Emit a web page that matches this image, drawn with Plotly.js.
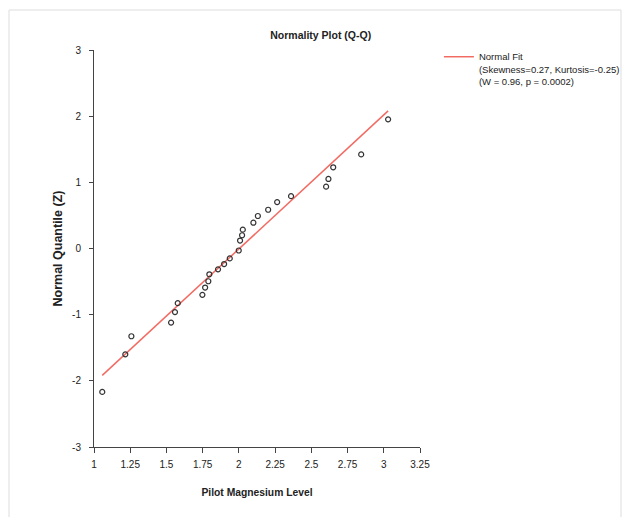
<!DOCTYPE html>
<html>
<head>
<meta charset="utf-8">
<script src="https://cdn.plot.ly/plotly-3.0.1.min.js"></script>
<style>
  html, body { margin: 0; padding: 0; background: #ffffff; }
  #chart { width: 624px; height: 517px; }
</style>
</head>
<body>
<div id="chart"></div>
<script>
// Observed data: Pilot Magnesium Level vs normal quantile (Z)
const magnesium = [3.030, 2.844, 2.651, 2.618, 2.602, 2.360, 2.264, 2.202, 2.131, 2.100,
                   2.027, 2.022, 2.008, 1.999, 1.937, 1.898, 1.856, 1.796, 1.789, 1.767,
                   1.748, 1.578, 1.559, 1.532, 1.258, 1.216, 1.057];
const zScores   = [1.952, 1.422, 1.227, 1.051, 0.935, 0.791, 0.701, 0.586, 0.491, 0.390,
                   0.285, 0.200, 0.120, -0.030, -0.150, -0.235, -0.315, -0.390, -0.495, -0.590,
                   -0.700, -0.826, -0.961, -1.120, -1.326, -1.600, -2.167];

// Normal fit line endpoints
const fitX = [1.057, 3.030];
const fitY = [-1.917, 2.080];

const xTicks = [1, 1.25, 1.5, 1.75, 2, 2.25, 2.5, 2.75, 3, 3.25];
const xTickText = ['1', '1.25', '1.5', '1.75', '2', '2.25', '2.5', '2.75', '3', '3.25'];
const yTicks = [-3, -2, -1, 0, 1, 2, 3];
const yTickText = ['-3', '-2', '-1', '0', '1', '2', '3'];

const fitName = 'Normal Fit<br>(Skewness=0.27, Kurtosis=-0.25)<br>(W = 0.96, p = 0.0002)';

const FONT = '"Liberation Sans Narrow", "Liberation Sans", Arial, sans-serif';

const traces = [
  {
    x: fitX, y: fitY, type: 'scatter', mode: 'lines',
    name: fitName,
    line: { color: '#f26b63', width: 1.5 },
    hoverinfo: 'skip'
  },
  {
    x: magnesium, y: zScores, type: 'scatter', mode: 'markers',
    name: 'Observed', showlegend: false,
    marker: { symbol: 'circle-open', size: 5, color: '#333333', line: { width: 1.2, color: '#333333' } }
  }
];

const layout = {
  width: 624, height: 517,
  paper_bgcolor: '#ffffff', plot_bgcolor: '#ffffff',
  margin: { l: 94, r: 204, t: 50, b: 70, autoexpand: false },
  font: { family: FONT, size: 10, color: '#222222' },
  title: {
    text: '<b>Normality Plot (Q-Q)</b>',
    x: 0.514, xref: 'container', xanchor: 'center',
    y: 0.932, yref: 'container', yanchor: 'middle',
    font: { family: FONT, size: 10.5, color: '#222222' }
  },
  xaxis: {
    range: [1, 3.25], tickvals: xTicks, ticktext: xTickText,
    showgrid: false, zeroline: false,
    showline: true, linecolor: '#444444', linewidth: 1,
    ticks: 'outside', ticklen: 5, tickcolor: '#444444',
    ticklabelstandoff: 3,
    tickfont: { family: FONT, size: 10, color: '#222222' },
    title: { text: '<b>Pilot Magnesium Level</b>', standoff: 19, font: { family: FONT, size: 10.3, color: '#222222' } }
  },
  yaxis: {
    range: [-3, 3], tickvals: yTicks, ticktext: yTickText,
    showgrid: false, zeroline: false,
    showline: true, linecolor: '#444444', linewidth: 1,
    ticks: 'outside', ticklen: 4, tickcolor: '#444444',
    ticklabelstandoff: 6,
    tickfont: { family: FONT, size: 10, color: '#222222' },
    title: { text: '<b>Normal Quantile (Z)</b>', standoff: 6, font: { family: FONT, size: 12.5, color: '#222222' } }
  },
  showlegend: true,
  legend: {
    x: 1.058, xanchor: 'left', y: 1.015, yanchor: 'top',
    xref: 'paper', yref: 'paper',
    valign: 'top', itemwidth: 30,
    bgcolor: 'rgba(0,0,0,0)',
    font: { family: FONT, size: 9.5, color: '#222222' }
  },
  shapes: [
    { type: 'rect', xref: 'paper', yref: 'paper',
      x0: (9 - 94) / 326, x1: (621 - 94) / 326,
      y0: (447 - 520) / 397, y1: (447 - 10) / 397,
      line: { color: '#dddddd', width: 1 }, layer: 'below' }
  ]
};

Plotly.newPlot('chart', traces, layout, { displayModeBar: false, staticPlot: true });
</script>
</body>
</html>
